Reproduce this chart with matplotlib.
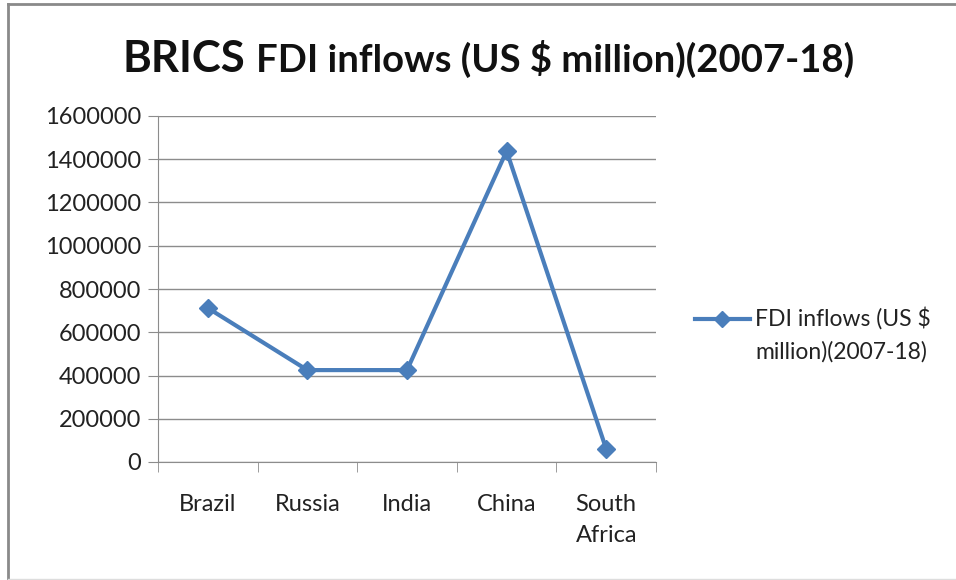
import matplotlib.pyplot as plt
from matplotlib.lines import Line2D

# data
countries = ["Brazil", "Russia", "India", "China", "South\nAfrica"]
fdi_inflows = [712000, 425000, 425000, 1438000, 60000]
y_ticks = [0, 200000, 400000, 600000, 800000, 1000000, 1200000, 1400000, 1600000]
series_name = "FDI inflows (US $\nmillion)(2007-18)"

plt.rcParams['font.family'] = ['Lato', 'DejaVu Sans']

W, H = 956, 580
fig = plt.figure(figsize=(W / 100, H / 100), dpi=100)

# plot area in pixels: left 158, right 656, top 116, bottom 462
ax = fig.add_axes([158 / W, 1 - 462 / H, (656 - 158) / W, (462 - 116) / H])

line_color = "#4A7EBB"
x = list(range(len(countries)))
ax.plot(x, fdi_inflows, color=line_color, lw=3, marker="D", markersize=9,
        markeredgecolor=line_color, markerfacecolor=line_color, zorder=3,
        label=series_name)

ax.set_xlim(-0.5, len(countries) - 0.5)
ax.set_ylim(0, 1600000)
ax.set_yticks(y_ticks)
ax.set_yticklabels([str(v) for v in y_ticks])
ax.set_xticks(x)
ax.set_xticklabels(countries, linespacing=1.6)
ax.set_xticks([i - 0.5 for i in range(len(countries) + 1)], minor=True)

ax.grid(axis="y", color="#8c8c8c", lw=1)
ax.set_axisbelow(True)
for s in ["top", "right"]:
    ax.spines[s].set_visible(False)
for s in ["left", "bottom"]:
    ax.spines[s].set_color("#8c8c8c")

ax.tick_params(axis="y", length=7, color="#8c8c8c", labelsize=17, pad=5,
               labelcolor="#222222")
ax.tick_params(axis="x", which="major", length=0, labelsize=17, pad=23,
               labelcolor="#222222")
ax.tick_params(axis="x", which="minor", length=7, color="#8c8c8c")

# title: "BRICS" in a larger size than the rest, second part placed after it
t1 = fig.text(122 / W, 1 - 72 / H, "BRICS", fontsize=31.5, fontweight="bold",
              va="baseline", ha="left", color="#111111")
bb = t1.get_window_extent(renderer=fig.canvas.get_renderer())
fig.text((bb.x1 + 11) / W, 1 - 72 / H, "FDI inflows (US $ million)(2007-18)",
         fontsize=27.5, fontweight="bold", va="baseline", ha="left", color="#111111")

# legend, drawn by hand so the key sits beside the first line of text
ky = 1 - 319 / H
fig.add_artist(Line2D([695 / W, 722 / W, 750 / W], [ky, ky, ky], color=line_color,
                      lw=3, marker="D", markersize=8, markevery=[1],
                      transform=fig.transFigure))
fig.text(755 / W, 1 - 307 / H, series_name, fontsize=16.5, va="top", ha="left",
         linespacing=1.65, color="#222222")

# chart border
fig.add_artist(Line2D([8 / W, 8 / W], [0, 1 - 4 / H], color="#8a8a8a", lw=2,
                      transform=fig.transFigure))
fig.add_artist(Line2D([8 / W, 1], [1 - 4 / H, 1 - 4 / H], color="#8a8a8a", lw=2,
                      transform=fig.transFigure))
fig.add_artist(Line2D([8 / W, 1], [1 - 579 / H, 1 - 579 / H], color="#dddddd", lw=1,
                      transform=fig.transFigure))

fig.savefig("out.png", dpi=100)
